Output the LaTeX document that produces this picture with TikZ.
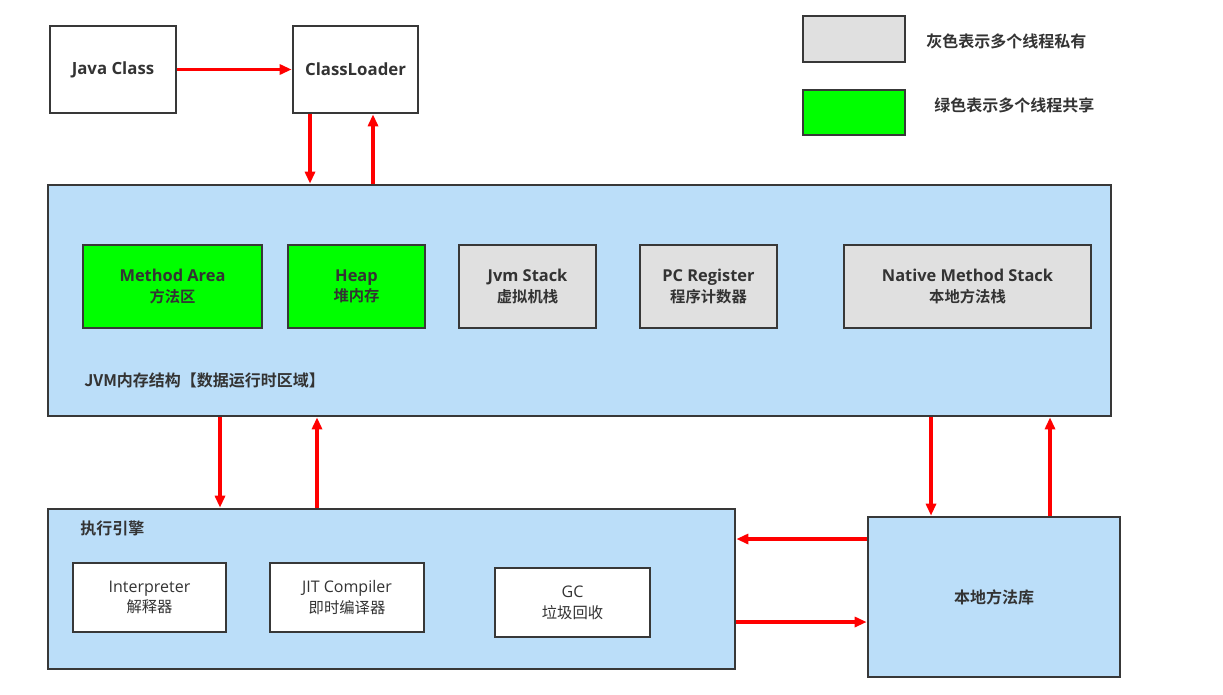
\documentclass[tikz,border=0pt]{standalone}
\usepackage{fontspec}
\setmainfont{Open Sans}
\newfontfamily\cjk{Noto Sans CJK SC}[BoldFont={Noto Sans CJK SC Bold}]
\usetikzlibrary{arrows.meta}
\definecolor{bd}{HTML}{383838}
\definecolor{txt}{HTML}{333333}
\definecolor{bluef}{HTML}{BBDEF9}
\definecolor{greenf}{HTML}{00FF00}
\definecolor{grayf}{HTML}{E0E0E0}
\def\u{0.75pt}
\newcommand\zh[1]{{\fontsize{11.5pt}{15.5pt}\selectfont\cjk #1}}
\tikzset{
  box/.style={draw=bd, line width=2pt, rectangle, inner sep=0pt, align=center,
    text=txt, font=\fontsize{12.3pt}{15.5pt}\selectfont\bfseries},
  thinbox/.style={box, font=\fontsize{12pt}{15.5pt}\selectfont},
  arr/.style={draw=red, line width=2.6pt, -{Triangle[length=9pt,width=7.5pt]}},
  lbl/.style={text=txt, anchor=west, inner sep=0pt, font=\fontsize{12pt}{14pt}\selectfont\bfseries\cjk},
}
\begin{document}
\begin{tikzpicture}[x=0.75pt,y=-0.75pt]
\useasboundingbox (0,0) rectangle (1223,694);
% top
\node[box, fill=white, minimum width=126*\u, minimum height=87*\u, font=\fontsize{12.6pt}{14pt}\selectfont\bfseries] (jc) at (113,69.5) {Java Class};
\node[box, fill=white, minimum width=125*\u, minimum height=87*\u, font=\fontsize{12.6pt}{14pt}\selectfont\bfseries] (cl) at (355.5,69.5) {ClassLoader};
% legend
\node[box, fill=grayf, minimum width=102*\u, minimum height=46*\u] (lg) at (854,39) {};
\node[box, fill=greenf, minimum width=102*\u, minimum height=45*\u] (lgg) at (854,112.5) {};
\node[lbl] (lgt) at (926,41) {灰色表示多个线程私有};
\node[lbl] (lggt) at (934,105) {绿色表示多个线程共享};
% JVM area
\node[box, fill=bluef, minimum width=1063*\u, minimum height=231*\u] (jvm) at (579.5,300.5) {};
\node[box, fill=greenf, minimum width=179*\u, minimum height=83*\u] (ma) at (172.5,286.5) {Method Area\\\zh{方法区}};
\node[box, fill=greenf, minimum width=137*\u, minimum height=83*\u] (hp) at (356.5,286.5) {Heap\\\zh{堆内存}};
\node[box, fill=grayf, minimum width=137*\u, minimum height=83*\u] (js) at (527.5,286.5) {Jvm Stack\\\zh{虚拟机栈}};
\node[box, fill=grayf, minimum width=137*\u, minimum height=83*\u] (pc) at (708.5,286.5) {PC Register\\\zh{程序计数器}};
\node[box, fill=grayf, minimum width=247*\u, minimum height=83*\u] (nms) at (967.5,286.5) {Native Method Stack\\\zh{本地方法栈}};
\node[lbl] (jvml) at (84,380) {JVM内存结构【数据运行时区域】};
% execution engine
\node[box, fill=bluef, minimum width=687*\u, minimum height=160*\u] (ee) at (391.5,589) {};
\node[lbl] (eel) at (80,528) {执行引擎};
\node[thinbox, fill=white, minimum width=153*\u, minimum height=69*\u] (ip) at (149.5,597.5) {Interpreter\\\zh{解释器}};
\node[thinbox, fill=white, minimum width=154*\u, minimum height=69*\u] (jit) at (347,597.5) {JIT Compiler\\\zh{即时编译器}};
\node[thinbox, fill=white, minimum width=155*\u, minimum height=69*\u] (gc) at (572.5,602.5) {GC\\\zh{垃圾回收}};
% native lib
\node[box, fill=bluef, minimum width=252*\u, minimum height=160*\u, font=\fontsize{12pt}{14pt}\selectfont\bfseries\cjk] (lib) at (994,597) {本地方法库};
% connector positions
\coordinate (a1) at (310,0);
\coordinate (a2) at (373,0);
\coordinate (a3) at (220,0);
\coordinate (a4) at (317,0);
\coordinate (a5) at (931,0);
\coordinate (a6) at (1050,0);
\coordinate (h1) at (0,539);
\coordinate (h2) at (0,622);
% connectors
\draw[arr] (jc.east) -- (cl.west);
\draw[arr] (cl.south -| a1) -- (jvm.north -| a1);
\draw[arr] (jvm.north -| a2) -- (cl.south -| a2);
\draw[arr] (jvm.south -| a3) -- (ee.north -| a3);
\draw[arr] (ee.north -| a4) -- (jvm.south -| a4);
\draw[arr] (jvm.south -| a5) -- (lib.north -| a5);
\draw[arr] (lib.north -| a6) -- (jvm.south -| a6);
\draw[arr] (lib.west |- h1) -- (ee.east |- h1);
\draw[arr] (ee.east |- h2) -- (lib.west |- h2);
\end{tikzpicture}
\end{document}
